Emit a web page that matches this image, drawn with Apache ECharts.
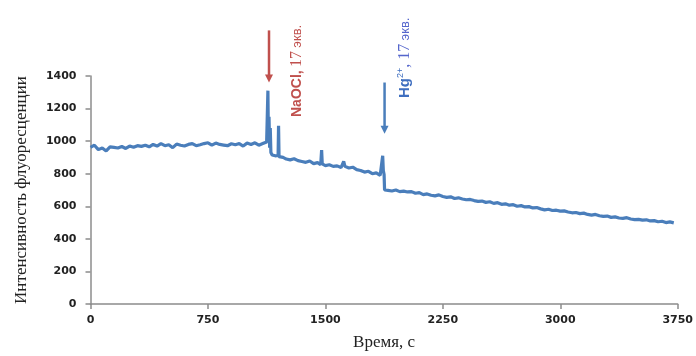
<!DOCTYPE html>
<html><head><meta charset="utf-8">
<script src="https://cdn.jsdelivr.net/npm/echarts@6/dist/echarts.min.js"></script>
<style>html,body{margin:0;padding:0;background:#fff}#c{width:696px;height:356px}</style>
</head><body><div id="c"></div>
<script>
const timeS = [0,25,50,75,100,125,150,175,200,225,250,275,300,325,350,375,400,425,450,475,500,525,550,575,600,625,650,675,700,725,750,775,800,825,850,875,900,925,950,975,1000,1025,1050,1075,1100,1125,
1130,1133,1136,1140,1144,1148,1152,1160,1170,1180,1190,1198,1201,1204,1215,1230,1250,1275,1300,1325,1350,1375,1400,1425,1450,1470,1476,1480,1500,1525,1550,1575,1600,1617,1625,1650,1675,1700,1725,1750,1775,1800,1825,1850,1860,1866,1870,1875,1878,
1900,1925,1950,1975,2000,2025,2050,2075,2100,2125,2150,2175,2200,2225,2250,2275,2300,2325,2350,2375,2400,2425,2450,2475,2500,2525,2550,2575,2600,2625,2650,2675,2700,2725,2750,2775,2800,2825,2850,2875,2900,2925,2950,2975,3000,3025,3050,3075,3100,3125,3150,3175,3200,3225,3250,3275,3300,3325,3350,3375,3400,3425,3450,3475,3500,3525,3550,3575,3600,3625,3650,3675,3700,3725];
const intensity = [962,975,948,958,940,965,962,958,967,955,970,962,972,968,975,965,980,970,985,972,978,960,982,975,970,980,985,972,978,985,990,975,988,980,976,972,984,978,985,970,988,980,990,975,985,995,
1000,1310,1020,1150,960,1080,930,915,920,910,918,912,1095,905,895,900,890,885,892,880,875,870,878,862,868,855,945,860,850,855,845,848,838,875,845,835,840,825,820,810,815,800,805,790,800,910,820,795,700,
698,694,700,690,693,688,690,680,684,672,676,668,664,670,660,655,658,648,652,645,640,642,635,630,632,624,628,618,622,612,615,607,610,600,604,596,598,590,592,584,578,582,574,576,570,572,565,560,562,555,558,550,546,550,542,538,540,532,535,528,526,530,522,518,520,515,517,510,512,505,508,500,504,498];
const xTicks = [0,750,1500,2250,3000,3750];
const yTicks = [0,200,400,600,800,1000,1200,1400];
const arrowNaOCl = {t:1140, from:1680, to:1360};
const arrowHg = {t:1878, from:1360, to:1045};

const chart = echarts.init(document.getElementById('c'));
const data = timeS.map((t,i)=>[t,intensity[i]]);
chart.setOption({
  animation:false,
  grid:{left:90.5,right:14,top:76,bottom:42,containLabel:false},
  xAxis:{type:'value',min:xTicks[0],max:xTicks[xTicks.length-1],interval:750,
    name:'Время, с',nameLocation:'middle',nameGap:30,
    nameTextStyle:{fontFamily:'Liberation Serif',fontSize:17,color:'#222'},
    axisLine:{lineStyle:{color:'#8c8c8c',width:1.5}},
    axisTick:{show:true,length:5,lineStyle:{color:'#8c8c8c',width:1.5}},
    axisLabel:{fontFamily:'DejaVu Sans',fontSize:11,color:'#222',margin:11,fontWeight:'bold',formatter:v=>String(v)},
    splitLine:{show:false}},
  yAxis:{type:'value',min:yTicks[0],max:yTicks[yTicks.length-1],interval:200,
    name:'Интенсивность флуоресценции',nameLocation:'middle',nameGap:60,nameRotate:90,
    nameTextStyle:{fontFamily:'Liberation Serif',fontSize:17,color:'#222'},
    axisLine:{show:true,lineStyle:{color:'#8c8c8c',width:1.5}},
    axisTick:{show:true,length:5,lineStyle:{color:'#8c8c8c',width:1.5}},
    axisLabel:{fontFamily:'DejaVu Sans',fontSize:11,color:'#222',margin:14,fontWeight:'bold',formatter:v=>String(v)},
    splitLine:{show:false}},
  series:[{type:'line',data:data,showSymbol:false,clip:false,
    lineStyle:{color:'#4a7ebb',width:3.2}}]
});
function arrow(a,color){
  const p1 = chart.convertToPixel({gridIndex:0},[a.t,a.from]);
  const p2 = chart.convertToPixel({gridIndex:0},[a.t,a.to]);
  return [
    {type:'line',shape:{x1:p1[0],y1:p1[1],x2:p2[0],y2:p2[1]-6},style:{stroke:color,lineWidth:2.5},silent:true},
    {type:'polygon',shape:{points:[[p2[0]-4,p2[1]-8],[p2[0]+4,p2[1]-8],[p2[0],p2[1]]]},style:{fill:color},silent:true}
  ];
}
chart.setOption({graphic:[
  ...arrow(arrowNaOCl,'#c0504d'),
  ...arrow(arrowHg,'#4a7ebb'),
  {type:'text',x:297,y:117,rotation:Math.PI/2,silent:true,style:{
    text:'{a|NaOCl,} {b|17} {c|экв.}',
    rich:{a:{fontFamily:'Liberation Sans',fontWeight:'bold',fontSize:14,fill:'#c0504d'},
          b:{fontFamily:'Liberation Serif',fontSize:16,fill:'#c0504d'},
          c:{fontFamily:'Liberation Sans',fontSize:13,fill:'#c0504d'}},
    verticalAlign:'middle',align:'left'}},
  {type:'text',x:405,y:98,rotation:Math.PI/2,silent:true,style:{
    text:'{a|Hg}{s|2+}{b|, 17} {c|экв.}',
    rich:{a:{fontFamily:'Liberation Sans',fontWeight:'bold',fontSize:15,fill:'#3f6fc0'},
          s:{fontFamily:'Liberation Sans',fontSize:9,fill:'#3f6fc0',padding:[0,0,9,0]},
          b:{fontFamily:'Liberation Serif',fontSize:16,fill:'#5566cc'},
          c:{fontFamily:'Liberation Sans',fontSize:13,fill:'#5566cc'}},
    verticalAlign:'middle',align:'left'}}
]});
</script></body></html>
